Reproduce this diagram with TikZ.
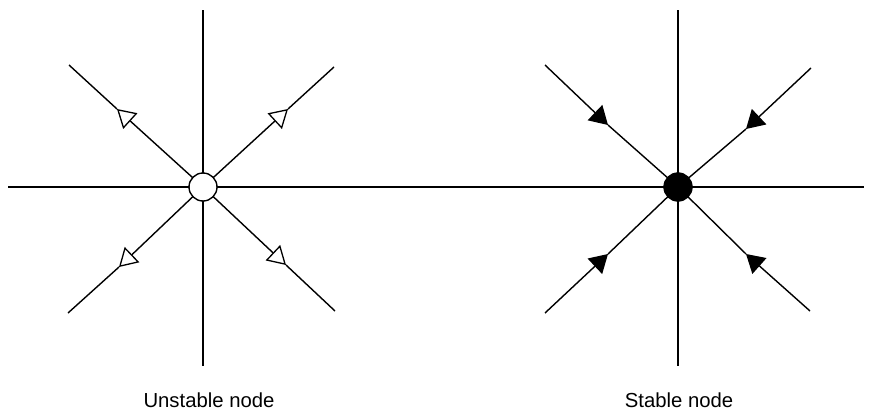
\documentclass[tikz,border=0pt]{standalone}
\usepackage{fontspec}
\setmainfont{Liberation Sans}
\usetikzlibrary{arrows.meta}
\begin{document}
\begin{tikzpicture}[x=1pt,y=-1pt,
  axis/.style={line width=1.4pt,line cap=butt},
  opentip/.style={-{Triangle[length=18pt,width=21pt,fill=white,line width=1.3pt]}},
  solidtip/.style={-{Triangle[length=18pt,width=21pt,line width=1.3pt]}},
  label/.style={anchor=base,font=\fontsize{20.3}{24}\selectfont}]
\useasboundingbox (0,0) rectangle (874,415);
% left: unstable node
\coordinate (Lc) at (203,187);
\coordinate (Lt) at (203,10);
\coordinate (Lb) at (203,366);
\coordinate (Hl) at (8,187);
\coordinate (Hr) at (864,187);
\coordinate (LUL) at (69,65);
\coordinate (LUR) at (334,67);
\coordinate (LLL) at (68,313);
\coordinate (LLR) at (335,311);
\coordinate (aLUL) at (117,109);
\coordinate (aLUR) at (288,109);
\coordinate (aLLL) at (119,267);
\coordinate (aLLR) at (286,265);
% right: stable node
\coordinate (Rc) at (678,187);
\coordinate (Rt) at (678,10);
\coordinate (Rb) at (678,366);
\coordinate (RUL) at (545,65);
\coordinate (RUR) at (811,68);
\coordinate (RLL) at (545,313);
\coordinate (RLR) at (810,311);
\coordinate (aRUL) at (608,125);
\coordinate (aRUR) at (746,129);
\coordinate (aRLL) at (608,254);
\coordinate (aRLR) at (746,254);
% axes
\draw[axis] (Hl) -- (Hr);
\draw[axis] (Lt) -- (Lb);
\draw[axis] (Rt) -- (Rb);
% left diagonals (outward arrows)
\foreach \e in {LUL,LUR,LLL,LLR}{
  \draw[axis,opentip] (Lc) -- (a\e);
  \draw[axis] (a\e) -- (\e);
}
% right diagonals (inward arrows)
\foreach \e in {RUL,RUR,RLL,RLR}{
  \draw[axis,solidtip] (\e) -- (a\e);
  \draw[axis] (a\e) -- (Rc);
}
\node[circle,draw,line width=1.4pt,fill=white,minimum size=28pt,inner sep=0pt] (un) at (Lc) {};
\node[circle,draw,line width=1.4pt,fill=black,minimum size=28pt,inner sep=0pt] (st) at (Rc) {};
\node[label] (ul) at (209,407) {Unstable node};
\node[label] (sl) at (679,407) {Stable node};
\end{tikzpicture}
\end{document}
